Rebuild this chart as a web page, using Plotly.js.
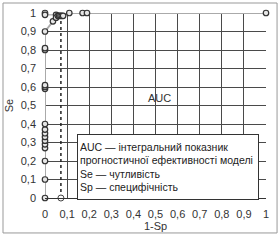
<!DOCTYPE html>
<html><head><meta charset="utf-8">
<script src="https://cdn.plot.ly/plotly-3.0.1.min.js"></script>
<style>html,body{margin:0;padding:0;background:#fff}</style>
</head><body><div id="chart" style="width:280px;height:240px"></div>
<script>
// ROC curve points (1-Sp, Se)
const rocX = [0,0,0,0,0,0,0,0,0,0,0,0,0,0,0,0,0.036,0.05,0.058,0.064,0.07,0.076,0.082,0.11,0.17,0.19,1];
const rocY = [0,0.1,0.2,0.27,0.29,0.31,0.33,0.35,0.37,0.4,0.59,0.6,0.61,0.8,0.81,0.9,0.955,0.975,0.985,0.985,0.985,0.985,0.985,1,1,1,1];
// upper short branch
const topX = [0,0,0.05];
const topY = [1,0.99,0.99];
// cut-off line
const cutX = [0.072,0.072];
const cutY = [0,0.98];
const xTicks = [0,0.1,0.2,0.3,0.4,0.5,0.6,0.7,0.8,0.9,1];
const yTicks = [0,0.1,0.2,0.3,0.4,0.5,0.6,0.7,0.8,0.9,1];
const aucLabel = 'AUC';
const legendText = 'AUC — інтегральний показник<br>прогностичної ефективності моделі<br>Se — чутливість<br>Sp — специфічність';

const mk = {symbol:'circle', size:5.5, color:'#e6e6e6', line:{color:'#333', width:1.2}};
const traces = [
  {x:cutX, y:cutY, mode:'lines', line:{color:'#222', width:1.5, dash:'dot'}, hoverinfo:'none', cliponaxis:false},
  {x:[cutX[0]], y:[cutY[0]], mode:'markers', marker:{symbol:'circle', size:6, color:'#fff', line:{color:'#444', width:1}}, cliponaxis:false},
  {x:topX, y:topY, mode:'lines+markers', line:{color:'#999', width:1}, marker:mk, cliponaxis:false},
  {x:rocX, y:rocY, mode:'lines+markers', line:{color:'#aaa', width:2}, marker:mk, cliponaxis:false}
];
const font = {family:'"Liberation Sans", Arial, sans-serif', size:11, color:'#333'};
const layout = {
  width:280, height:240,
  margin:{l:45, r:14, t:13, b:42},
  paper_bgcolor:'#fff', plot_bgcolor:'#fff',
  showlegend:false, separators:',.',
  font:font,
  xaxis:{range:[0,1], tickvals:xTicks, showgrid:true, gridcolor:'#4a4a4a', gridwidth:1,
         zeroline:false, showline:true, linecolor:'#333', ticks:'', ticklabelstandoff:6,
         title:{text:'1-Sp', font:font, standoff:0}, fixedrange:true},
  yaxis:{range:[0,1], tickvals:yTicks, showgrid:true, gridcolor:'#4a4a4a', gridwidth:1,
         zeroline:false, showline:false, ticks:'', ticklabelstandoff:8,
         title:{text:'Se', font:font, standoff:4}, fixedrange:true},
  shapes:[
    {type:'rect', xref:'paper', yref:'paper', x0:-0.19, x1:1.05, y0:-0.189, y1:1.054,
     line:{color:'#999', width:1}, layer:'below'}
  ],
  annotations:[
    {x:0.52, y:0.54, xref:'x', yref:'y', text:aucLabel, showarrow:false, font:font},
    {x:0.145, y:0.346, xref:'paper', yref:'paper', xanchor:'left', yanchor:'top', align:'left',
     width:176, height:60,
     text:legendText, showarrow:false, bgcolor:'#fff', bordercolor:'#333', borderwidth:1, borderpad:2,
     font:{family:'"Liberation Sans", Arial, sans-serif', size:10.5, color:'#222'}}
  ]
};
Plotly.newPlot('chart', traces, layout, {displayModeBar:false, staticPlot:true});
</script></body></html>
